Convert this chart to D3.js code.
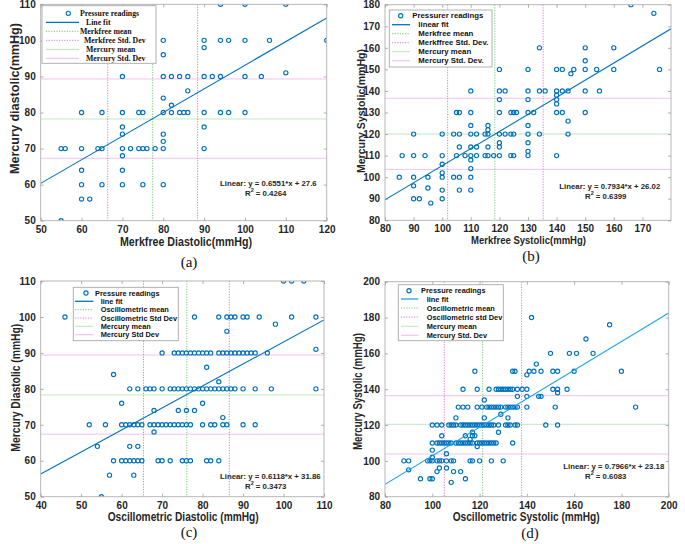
<!DOCTYPE html>
<html><head><meta charset="utf-8">
<script src="https://cdn.jsdelivr.net/npm/d3@7/dist/d3.min.js"></script>
<style>body{margin:0;background:#fff}</style>
</head><body>
<svg id="chart" width="685" height="544"></svg>
<script>
// ---------------- DATA ----------------
// rows: [mercury value, [device readings at that mercury value]]
const rowsA = [
  [110,[94,100,110]],
  [100,[80,90,94,96,100,106,120]],
  [98,[90]],[96,[80]],[91,[110]],
  [90,[70,80,82,84,86,90,92,94,100,104]],
  [86,[86]],[84,[80]],[82,[82]],
  [80,[60,65,70,74,75,80,82,84,85,86,90,94,96,100]],
  [76,[70,90]],[74,[70,80]],[72,[80]],
  [70,[55,56,60,64,65,70,72,74,75,76,78,80,90]],
  [68,[70]],[64,[60,70]],
  [60,[60,65,70,75,80]],
  [56,[60,62]],[50,[55]]
];
const rowsB = [
  [180,[166]],[176,[174]],
  [160,[134,150,160]],[154,[150]],
  [150,[120,130,140,142,146,150,154,160,176]],
  [148,[145]],
  [140,[110,120,122,130,134,136,140,142,144,150,155]],
  [138,[140]],[136,[120,130,140]],[134,[140]],
  [130,[105,106,110,120,124,125,126,130,132,140,142,150]],
  [126,[144]],[124,[110,116,130]],[122,[116]],
  [120,[90,100,104,106,110,112,115,116,120,122,124,125,130,134,144]],
  [116,[120,130]],[114,[106,110,112,116,120]],[112,[130]],
  [110,[86,90,94,100,105,108,110,112,115,116,118,120,124,125,130,140]],
  [108,[110]],[106,[100]],[104,[110]],[102,[100]],
  [100,[85,90,95,100,104,106,110]],
  [96,[90]],[95,[95]],[94,[100,106,110]],[90,[90,92,100]],[88,[96]]
];
const rowsC = [
  [110,[100,102,105]],
  [100,[46,78,84,86,87,88,90,91,94,102,108]],
  [98,[98]],[96,[86]],[91,[108]],
  [90,[70,73,74,75,76,77,78,79,80,81,82,84,85,86,87,88,89,90,91,92,93,96]],
  [86,[81]],[84,[58]],[82,[84]],
  [80,[62,64,66,67,68,70,72,73,74,75,76,77,78,79,80,81,82,83,84,85,86,87,88,90,93,97,108]],
  [76,[60,80]],[74,[68,74,76,78]],[72,[85]],
  [70,[52,56,60,61,62,63,64,65,67,68,69,70,71,72,73,74,75,76,77,80,82,83,85,86,90,93]],
  [68,[68]],[64,[54,62,64]],
  [60,[58,60,61,62,63,64,65,69,70,72,75,76,77,81,82,84]],
  [56,[57,63]],[50,[55]]
];
const rowsD = [
  [180,[142]],[176,[175]],[168,[165]],
  [160,[150,158,161,168]],[154,[144]],
  [150,[118,134,135,141,143,146,151,153,160,180]],
  [148,[140]],
  [140,[113,119,124,127,128,129,130,131,132,133,134,136,138,140,151,153,157]],
  [138,[153]],[136,[136,140,145,146]],[134,[122]],
  [130,[111,113,115,119,121,123,124,125,126,127,128,129,131,132,133,134,135,136,140,152,186]],
  [126,[129]],[124,[110,122,132]],
  [120,[100,102,104,107,108,109,110,112,113,114,115,116,117,118,119,120,121,122,123,124,125,126,128,131,132,133,135,136,148,153]],
  [116,[117,128]],[114,[104,114,117,118]],[112,[116]],
  [110,[100,102,103,104,105,106,107,108,110,111,112,113,114,115,116,117,119,120,121,122,123,124,125,126,127,134]],
  [108,[119]],[106,[100]],[104,[106]],[102,[100]],
  [100,[88,90,98,99,100,102,103,104,106,108,109,116,117,120,125,130]],
  [96,[103,106]],[95,[90]],[94,[102,109,112]],[90,[95,99,100,114]],[88,[108]]
];
// linear fits [slope, intercept, R2]
const fitA = [0.6551, 27.6, "0.4264"];
const fitB = [0.7934, 26.02, "0.6399"];
const fitC = [0.6118, 31.86, "0.3473"];
const fitD = [0.7966, 23.18, "0.6083"];
// reference lines: [device mean, device std lo, device std hi, mercury mean, mercury std lo, mercury std hi]
const refA = [77.4, 66.4, 88.4, 78.2, 67.3, 89.3];
const refB = [118.4, 101.9, 135.3, 120.0, 103.6, 136.6];
const refC = [76.1, 65.4, 86.6, 78.3, 67.4, 89.4];
const refD = [121.3, 105.1, 137.8, 120.4, 103.8, 136.4];
// tick labels
const ticksAx = [50,60,70,80,90,100,110,120], ticksAy = [50,60,70,80,90,100,110];
const ticksBx = [80,90,100,110,120,130,140,150,160,170], ticksBy = [80,90,100,110,120,130,140,150,160,170,180];
const ticksCx = [40,50,60,70,80,90,100,110], ticksCy = [50,60,70,80,90,100,110];
const ticksDx = [80,100,120,140,160,180,200], ticksDy = [80,100,120,140,160,180,200];
// legend labels
const legA = ["Pressure readings","Line fit","Merkfree mean","Merkfree Std. Dev","Mercury mean","Mercury Std. Dev"];
const legB = ["Pressurer readings","linear fit","Merkfree mean","Merkffree Std. Dev.","Mercury mean","Mercury Std. Dev."];
const legC = ["Pressure readings","line fit","Oscillometric mean","Oscillometric Std Dev","Mercury mean","Mercury Std Dev"];
const legD = ["Pressure readings","line fit","Oscillometric  mean","Oscillometric std Dev","Mercury mean","Mercury Std. Dev"];

// ---------------- DRAW ----------------
const svg = d3.select("#chart");
const BLUE = "#0072BD", GREEN = "#66c466", MAG = "#dd66dd";
const SANS = "'Liberation Sans', Arial, sans-serif";
const SERIF = "'Liberation Serif', 'Times New Roman', serif";

function flatten(rows){ const out=[]; rows.forEach(([yv,xs])=>xs.forEach(xv=>out.push([xv,yv]))); return out; }

function panel(c){
  const x = d3.scaleLinear().domain(c.xd).range([c.L, c.R]);
  const y = d3.scaleLinear().domain(c.yd).range([c.B, c.T]);
  const g = svg.append("g");
  const clipId = "clip"+c.id;
  g.append("clipPath").attr("id",clipId).append("rect")
    .attr("x",c.L).attr("y",c.T).attr("width",c.R-c.L).attr("height",c.B-c.T);
  const pg = g.append("g").attr("clip-path","url(#"+clipId+")");
  // reference lines
  const r = c.ref;
  [[r[0],GREEN],[r[1],MAG],[r[2],MAG]].forEach(([v,col])=>{
    pg.append("line").attr("x1",x(v)).attr("x2",x(v)).attr("y1",c.T).attr("y2",c.B)
      .attr("stroke",col).attr("stroke-width",0.9).attr("stroke-dasharray","1.2,1.4");
  });
  [[r[3],GREEN],[r[4],MAG],[r[5],MAG]].forEach(([v,col])=>{
    pg.append("line").attr("x1",c.L).attr("x2",c.R).attr("y1",y(v)).attr("y2",y(v))
      .attr("stroke",col).attr("stroke-width",0.8).attr("stroke-opacity",0.5);
  });
  // points
  pg.selectAll("circle.p").data(flatten(c.rows)).join("circle").attr("class","p")
    .attr("cx",d=>x(d[0])).attr("cy",d=>y(d[1])).attr("r",2.1)
    .attr("fill","none").attr("stroke",BLUE).attr("stroke-width",1.15);
  // fit line
  const f = c.fit;
  pg.append("line").attr("x1",x(c.xd[0])).attr("y1",y(f[0]*c.xd[0]+f[1]))
    .attr("x2",x(c.xd[1])).attr("y2",y(f[0]*c.xd[1]+f[1]))
    .attr("stroke",c.fitColor).attr("stroke-width",1.1);
  // frame
  g.append("rect").attr("x",c.L).attr("y",c.T).attr("width",c.R-c.L).attr("height",c.B-c.T)
    .attr("fill","none").attr("stroke","#b0b0b0").attr("stroke-width",0.9);
  // axes
  const styleAxis = (sel)=>{
    sel.select(".domain").remove();
    sel.selectAll(".tick line").attr("stroke","#9a9a9a").attr("stroke-width",0.8);
    sel.selectAll(".tick text").attr("fill","#262626").attr("font-family",SANS)
      .attr("font-weight","bold").attr("font-size",10);
  };
  g.append("g").attr("transform",`translate(0,${c.B})`)
    .call(d3.axisBottom(x).tickValues(c.xt).tickSize(-3).tickPadding(5)).call(styleAxis);
  g.append("g").attr("transform",`translate(0,${c.T})`)
    .call(d3.axisTop(x).tickValues(c.xt).tickSize(-3).tickFormat("")).call(styleAxis);
  g.append("g").attr("transform",`translate(${c.L},0)`)
    .call(d3.axisLeft(y).tickValues(c.yt).tickSize(-3).tickPadding(5)).call(styleAxis);
  g.append("g").attr("transform",`translate(${c.R},0)`)
    .call(d3.axisRight(y).tickValues(c.yt).tickSize(-3).tickFormat("")).call(styleAxis);
  // axis titles
  g.append("text").attr("x",c.xt0).attr("y",c.xtY).attr("textLength",c.xtLen)
    .attr("lengthAdjust","spacingAndGlyphs").attr("font-family",SANS).attr("font-weight","bold")
    .attr("font-size",c.titleSize).attr("fill","#262626").text(c.xTitle);
  g.append("text").attr("transform",`translate(${c.ytX},${c.yt0}) rotate(-90)`)
    .attr("textLength",c.ytLen).attr("lengthAdjust","spacingAndGlyphs")
    .attr("font-family",SANS).attr("font-weight","bold")
    .attr("font-size",c.titleSize).attr("fill","#262626").text(c.yTitle);
  // caption
  g.append("text").attr("x",c.capX).attr("y",c.capY).attr("text-anchor","middle")
    .attr("font-family",SERIF).attr("font-size",15).attr("fill","#111").text(c.cap);
  // annotation
  const an = g.append("text").attr("font-family",SANS).attr("font-weight","bold")
    .attr("font-size",7.8).attr("fill","#262626");
  an.append("tspan").attr("x",c.an[0]).attr("y",c.an[1])
    .text(`Linear:  y = ${f[0]}*x + ${f[1]}`);
  const r2 = g.append("text").attr("x",c.an[2]).attr("y",c.an[3]).attr("font-family",SANS)
    .attr("font-weight","bold").attr("font-size",7.8).attr("fill","#262626");
  r2.append("tspan").text("R");
  r2.append("tspan").attr("font-size",5.5).attr("dy",-3.5).text("2");
  r2.append("tspan").attr("dy",3.5).text(` = ${f[2]}`);
  // legend
  const lg = c.leg;
  g.append("rect").attr("x",lg.x0).attr("y",lg.y0).attr("width",lg.x1-lg.x0).attr("height",lg.y1-lg.y0)
    .attr("fill","#fff").attr("stroke","#a8a8a8").attr("stroke-width",0.9);
  c.legText.forEach((t,i)=>{
    const yy = lg.rows[i];
    if(i===0){
      g.append("circle").attr("cx",lg.mx).attr("cy",yy).attr("r",2.1).attr("fill","none")
        .attr("stroke",BLUE).attr("stroke-width",1.15);
    } else {
      const col = i===1 ? c.fitColor : (i===2||i===4 ? GREEN : MAG);
      const ln = g.append("line").attr("x1",lg.s0).attr("x2",lg.s1).attr("y1",yy).attr("y2",yy)
        .attr("stroke",col).attr("stroke-width",i===1?1.3:0.9);
      if(i===2||i===3) ln.attr("stroke-dasharray","1.2,1.4");
      if(i>=4) ln.attr("stroke-opacity",0.5);
    }
    g.append("text").attr("x",lg.tx[i]).attr("y",yy+2.7).attr("font-family",lg.font)
      .attr("font-weight","bold").attr("font-size",lg.fs).attr("fill","#111").text(t);
  });
}

panel({id:"A", rows:rowsA, fit:fitA, ref:refA, fitColor:BLUE,
  xd:[50,120], yd:[50,110], xt:ticksAx, yt:ticksAy, L:40.7, R:326.7, T:4.3, B:220.7,
  xTitle:"Merkfree Diastolic(mmHg)", xt0:120, xtY:246, xtLen:132,
  yTitle:"Mercury diastolic(mmHg)", ytX:18.5, yt0:174, ytLen:151, titleSize:13,
  cap:"(a)", capX:189, capY:267,
  an:[220,185.5,245,195.5],
  leg:{x0:42,y0:5.7,x1:156,y1:63.3,rows:[13.3,22.3,31.3,40.3,49.3,58.3],mx:68.3,s0:46,s1:79,
       tx:[80,86,80,84,86,86],font:SERIF,fs:7.8},
  legText:legA});
panel({id:"B", rows:rowsB, fit:fitB, ref:refB, fitColor:BLUE,
  xd:[80,180], yd:[80,180], xt:ticksBx, yt:ticksBy, L:385, R:671, T:4.7, B:220.3,
  xTitle:"Merkfree Systolic(mmHg)", xt0:471, xtY:243.5, xtLen:115,
  yTitle:"Mercury Systolic(mmHg)", ytX:364.5, yt0:173, ytLen:124, titleSize:11,
  cap:"(b)", capX:531, capY:261,
  an:[559.3,188.5,585,198.7],
  leg:{x0:389.3,y0:10,x1:492,y1:67,rows:[15.7,24.7,33.7,42.7,51.7,60.7],mx:400.7,s0:392,s1:410,
       tx:[412.3,418.3,418.3,418.3,418.3,418.3],font:SANS,fs:7.8},
  legText:legB});
panel({id:"C", rows:rowsC, fit:fitC, ref:refC, fitColor:BLUE,
  xd:[40,110], yd:[50,110], xt:ticksCx, yt:ticksCy, L:40.7, R:324, T:281, B:496.7,
  xTitle:"Oscillometric Diastolic (mmHg)", xt0:107.7, xtY:520.7, xtLen:151,
  yTitle:"Mercury Diastolic (mmHg)", ytX:19.5, yt0:451.7, ytLen:128, titleSize:12,
  cap:"(c)", capX:189, capY:537,
  an:[220,478.5,245,488.5],
  leg:{x0:73.3,y0:287.3,x1:178.3,y1:340.7,rows:[293,301.3,309.7,318,326.3,334.7],mx:86,s0:75,s1:93.3,
       tx:[95,100.7,100.7,100.7,100.7,100.7],font:SANS,fs:7.4},
  legText:legC});
panel({id:"D", rows:rowsD, fit:fitD, ref:refD, fitColor:"#1da2ec",
  xd:[80,200], yd:[80,200], xt:ticksDx, yt:ticksDy, L:385, R:668.7, T:281.7, B:496.7,
  xTitle:"Oscillometric Systolic (mmHg)", xt0:452.7, xtY:520.7, xtLen:147,
  yTitle:"Mercury Systolic (mmHg)", ytX:362, yt0:450, ytLen:117, titleSize:12,
  cap:"(d)", capX:530, capY:538,
  an:[563.3,468.5,585,478.5],
  leg:{x0:398.3,y0:284.7,x1:503.3,y1:340.7,rows:[290.7,299,308,317,326.3,335.3],mx:409,s0:401,s1:418.3,
       tx:[421,426.7,426.7,426.7,426.7,426.7],font:SANS,fs:7.4},
  legText:legD});
</script>
</body></html>
